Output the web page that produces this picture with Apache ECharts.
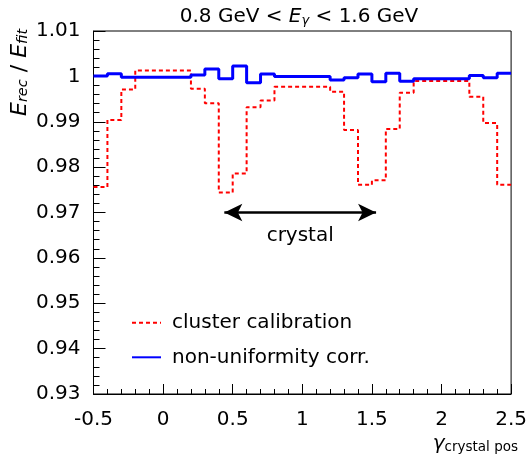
<!DOCTYPE html>
<html>
<head>
<meta charset="utf-8">
<script src="https://cdn.jsdelivr.net/npm/echarts@6/dist/echarts.min.js"></script>
<style>
  html, body { margin: 0; padding: 0; background: #fff; }
  #main { width: 530px; height: 461px; }
</style>
</head>
<body>
<div id="main"></div>
<script>
// bin edges (width 0.1) from -0.5 to 2.5
var edges = [];
for (var i = 0; i <= 30; i++) edges.push(+(-0.5 + i * 0.1).toFixed(1));

var clusterCalib = [
  0.9756, 0.9904, 0.9971, 1.0013, 1.0013, 1.0013, 1.0013, 0.9973, 0.9941, 0.9744,
  0.9786, 0.9932, 0.9947, 0.9977, 0.9977, 0.9977, 0.9977, 0.9966, 0.9882, 0.9761,
  0.9771, 0.9884, 0.9964, 0.9990, 0.9990, 0.9990, 0.9990, 0.9955, 0.9897, 0.9761
];
var nonUniform = [
  1.0001, 1.0006, 0.9998, 0.9998, 0.9998, 0.9998, 0.9998, 1.0003, 1.0016, 0.9995,
  1.0023, 0.9986, 1.0005, 1.0000, 1.0000, 1.0000, 1.0000, 0.9992, 0.9997, 1.0005,
  0.9988, 1.0007, 0.9989, 0.9995, 0.9995, 0.9995, 0.9995, 1.0002, 0.9997, 1.0007
];
var seriesNames = ['cluster calibration', 'non-uniformity corr.'];
var arrowFrom = [0.44, 0.97];
var arrowTo = [1.53, 0.97];

function histPoints(vals) {
  var pts = [];
  for (var i = 0; i < vals.length; i++) pts.push([edges[i], vals[i]]);
  pts.push([edges[vals.length], vals[vals.length - 1]]);
  return pts;
}

var font = 'DejaVu Sans';
var chart = echarts.init(document.getElementById('main'));
chart.setOption({
  animation: false,
  textStyle: { fontFamily: font },
  title: {
    text: '0.8 GeV < {i|E}{s|γ} < 1.6 GeV',
    left: 294, top: 2, textAlign: 'center',
    textStyle: {
      fontFamily: font, fontSize: 20, fontWeight: 'normal', color: '#000',
      rich: {
        i: { fontFamily: font, fontSize: 20, fontStyle: 'italic', color: '#000' },
        s: { fontFamily: font, fontSize: 13, fontStyle: 'italic', color: '#000', verticalAlign: 'bottom', padding: [7, 0, 0, 0] }
      }
    }
  },
  grid: { left: 93.5, right: 15, top: 31, bottom: 67, show: true, borderColor: '#000', borderWidth: 1 },
  legend: {
    orient: 'vertical', left: 131, top: 312.7, padding: 0,
    itemWidth: 29, itemHeight: 20, itemGap: 14.6,
    itemStyle: { opacity: 0 },
    data: seriesNames,
    textStyle: { fontFamily: font, fontSize: 20, color: '#000', lineHeight: 20, padding: [0, 0, 0, 6] }
  },
  xAxis: {
    type: 'value', min: -0.5, max: 2.5, interval: 0.5,
    axisLine: { onZero: false, lineStyle: { color: '#000', width: 1 } },
    axisTick: { inside: true, length: 10, lineStyle: { color: '#000' } },
    minorTick: { show: true, splitNumber: 5, length: 5, lineStyle: { color: '#000' } },
    splitLine: { show: false },
    axisLabel: { color: '#000', fontSize: 20, margin: 16, fontFamily: font,
      showMinLabel: true, showMaxLabel: true }
  },
  yAxis: {
    type: 'value', min: 0.93, max: 1.01, interval: 0.01,
    axisLine: { show: true, onZero: false, lineStyle: { color: '#000', width: 1 } },
    axisTick: { inside: true, length: 12, lineStyle: { color: '#000' } },
    minorTick: { show: true, splitNumber: 5, length: 6, lineStyle: { color: '#000' } },
    splitLine: { show: false },
    axisLabel: { color: '#000', fontSize: 20, margin: 13, fontFamily: font }
  },
  graphic: [
    {
      type: 'text', x: 20, y: 116, rotation: Math.PI / 2,
      style: {
        text: '{i|E}{s|rec} / {i|E}{s|fit}',
        textAlign: 'left', textVerticalAlign: 'middle', fill: '#000',
        rich: {
          i: { fontFamily: font, fontSize: 22, fontStyle: 'italic', fill: '#000' },
          s: { fontFamily: font, fontSize: 14.5, fontStyle: 'italic', fill: '#000', verticalAlign: 'bottom', padding: [7, 0, 0, 0] }
        },
        font: '22px ' + font
      }
    },
    {
      type: 'text', x: 518, y: 444,
      style: {
        text: '{i|γ}{s|crystal pos}',
        textAlign: 'right', textVerticalAlign: 'middle', fill: '#000',
        rich: {
          i: { fontFamily: font, fontSize: 20, fontStyle: 'italic', fill: '#000' },
          s: { fontFamily: font, fontSize: 13.5, fill: '#000', verticalAlign: 'bottom', padding: [6, 0, 0, 0] }
        },
        font: '20px ' + font
      }
    }
  ],
  series: [
    {
      name: seriesNames[0], type: 'line', step: 'end', symbol: 'none',
      data: histPoints(clusterCalib), z: 2,
      lineStyle: { color: '#ff0000', width: 2, type: [4, 3] },
      itemStyle: { color: '#ff0000' }
    },
    {
      name: seriesNames[1], type: 'line', step: 'end', symbol: 'none',
      data: histPoints(nonUniform), z: 3,
      lineStyle: { color: '#0000ff', width: 3 },
      itemStyle: { color: '#0000ff' }
    },
    {
      name: 'arrow', type: 'line', data: [], silent: true,
      markLine: {
        silent: true, animation: false,
        symbol: ['arrow', 'arrow'], symbolSize: [13, 18],
        lineStyle: { color: '#000', width: 2.5, type: 'solid' },
        label: {
          show: true, position: 'insideMiddleBottom', distance: 13,
          formatter: 'crystal', color: '#000', fontSize: 20, fontFamily: font
        },
        data: [[{ coord: arrowFrom }, { coord: arrowTo }]]
      }
    }
  ]
});
</script>
</body>
</html>
